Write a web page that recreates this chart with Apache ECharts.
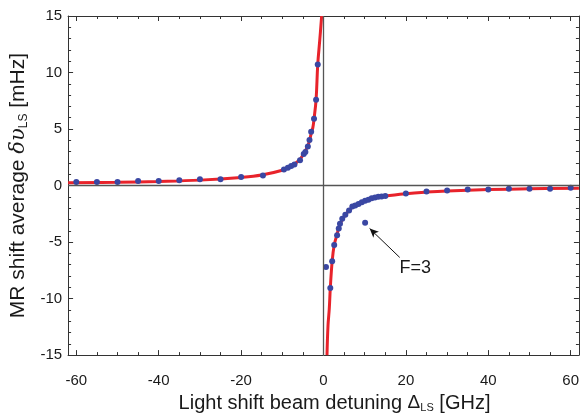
<!DOCTYPE html>
<html><head><meta charset="utf-8">
<script src="https://cdn.jsdelivr.net/npm/echarts@6/dist/echarts.min.js"></script>
<style>html,body{margin:0;padding:0;background:#fff}#c{width:582px;height:418px}</style>
</head><body><div id="c"></div>
<script>
// ---- data ----
const xMajorTicks = [-60, -40, -20, 0, 20, 40, 60];
const xMinorTicks = [-60,-55,-50,-45,-40,-35,-30,-25,-20,-15,-10,-5,0,5,10,15,20,25,30,35,40,45,50,55,60];
const yTickValues = [-15, -10, -5, 0, 5, 10, 15];

// measured points, negative detuning
const leftX = [-60, -55, -50, -45, -40, -35, -30, -25, -20, -14.7, -9.6, -8.65, -7.85, -7.05, -5.7, -4.8, -4.4, -3.8, -3.4, -3.0, -2.3, -1.8, -1.4];
const leftY = [0.32, 0.32, 0.32, 0.41, 0.41, 0.46, 0.55, 0.55, 0.76, 0.9, 1.42, 1.57, 1.72, 1.86, 2.24, 2.79, 2.96, 3.46, 4.04, 4.77, 5.9, 7.6, 10.7];
// measured points, positive detuning
const rightX = [0.6, 1.65, 2.1, 2.6, 3.3, 3.7, 4.0, 4.55, 5.3, 6.2, 7.0, 7.7, 8.5, 9.3, 10.1, 10.9, 11.7, 12.5, 13.3, 14.1, 15.0, 20, 25, 30, 35, 40, 45, 50, 55, 60];
const rightY = [-7.2, -9.07, -6.7, -5.26, -4.39, -3.8, -3.37, -2.94, -2.59, -2.21, -1.86, -1.77, -1.63, -1.48, -1.34, -1.25, -1.13, -1.05, -0.99, -0.96, -0.93, -0.70, -0.52, -0.44, -0.35, -0.35, -0.29, -0.29, -0.29, -0.2];
// F=3 point
const f3X = [10.1];
const f3Y = [-3.29];

// fitted curve
const fitLeftX = [-62, -50, -40, -30, -20, -15, -10, -8, -6, -5, -4, -3.4, -3.0, -2.6, -2.3, -1.8, -1.4, -0.9, -0.45];
const fitLeftY = [0.24, 0.29, 0.36, 0.48, 0.72, 0.93, 1.35, 1.68, 2.2, 2.7, 3.35, 3.95, 4.6, 5.1, 5.9, 7.6, 10.7, 12.9, 15];
const fitRightX = [0.85, 1.09, 1.4, 1.65, 2.1, 2.6, 3.3, 4.0, 5.0, 6.2, 7.0, 8.5, 10, 12, 15, 20, 25, 30, 40, 50, 62];
const fitRightY = [-15, -12.4, -10.9, -9.07, -6.7, -5.26, -4.3, -3.4, -2.75, -2.21, -1.92, -1.6, -1.36, -1.14, -0.93, -0.72, -0.58, -0.48, -0.36, -0.29, -0.23];

// annotation
const annText = 'F=3';
const annTextPos = [22.3, -7.3];
const annArrowFrom = [18.5, -6.36];
const annArrowTo = [11.2, -3.8];

const zip = (a, b) => a.map((v, i) => [v, b[i]]);

const FONT = 'Liberation Sans, Arial, sans-serif';
const frameColor = '#333';
const txt = '#1a1a1a';
const tickLabel = { fontFamily: FONT, fontSize: 15, color: txt };

function xAxisDef(pos, showLabel, ticks, len, showLine) {
  return {
    type: 'value', position: pos, min: -62, max: 62,
    axisLine: { show: showLine, onZero: false, lineStyle: { color: frameColor, width: 1 } },
    axisTick: { show: true, inside: true, length: len, customValues: ticks, lineStyle: { color: frameColor, width: 1 } },
    axisLabel: showLabel ? Object.assign({ show: true, margin: 18, customValues: xMajorTicks }, tickLabel) : { show: false },
    splitLine: { show: false }
  };
}
function yAxisDef(pos, showLabel) {
  return {
    type: 'value', position: pos, min: -15, max: 15, interval: 5,
    axisLine: { show: true, onZero: false, lineStyle: { color: frameColor, width: 1 } },
    axisTick: { show: true, inside: true, length: 5, lineStyle: { color: frameColor } },
    minorTick: { show: true, splitNumber: 5, length: 3, lineStyle: { color: frameColor } },
    axisLabel: showLabel ? Object.assign({ show: true, margin: 6 }, tickLabel) : { show: false },
    splitLine: { show: false }, minorSplitLine: { show: false }
  };
}

const xAxes = [
  xAxisDef('bottom', true, xMinorTicks, 3, true),
  xAxisDef('bottom', false, xMajorTicks, 5, false),
  xAxisDef('top', false, xMinorTicks, 3, true),
  xAxisDef('top', false, xMajorTicks, 5, false)
];
Object.assign(xAxes[0], {
  name: '{t|Light shift beam detuning }{g|Δ}{s|LS}{t| [GHz]}',
  nameLocation: 'middle', nameGap: 36,
  nameTextStyle: { padding: [0, 0, 0, 22], rich: {
    t: { fontFamily: FONT, fontSize: 20, color: txt },
    g: { fontFamily: FONT, fontSize: 19, color: txt },
    s: { fontFamily: FONT, fontSize: 11, color: txt, verticalAlign: 'bottom', padding: [9, 0, 0, 0] }
  } }
});
const yAxes = [yAxisDef('left', true), yAxisDef('right', false)];
Object.assign(yAxes[0], {
  name: '{t|MR shift average }{g|δυ}{s|LS}{t| [mHz]}',
  nameLocation: 'middle', nameGap: 30, nameRotate: 90,
  nameTextStyle: { rich: {
    t: { fontFamily: FONT, fontSize: 21, color: txt },
    g: { fontFamily: 'DejaVu Serif, serif', fontSize: 21, fontStyle: 'italic', color: txt },
    s: { fontFamily: FONT, fontSize: 12, color: txt, verticalAlign: 'bottom', padding: [10, 0, 0, 0] }
  } }
});

const dotColor = '#3a47a3';
const lineColor = '#e8232b';

const chart = echarts.init(document.getElementById('c'), null, { renderer: 'canvas' });
chart.setOption({
  animation: false,
  backgroundColor: '#fff',
  grid: { left: 66, right: 3, top: 16, bottom: 58, containLabel: false },
  xAxis: xAxes,
  yAxis: yAxes,
  series: [
    { type: 'line', xAxisIndex: 0, yAxisIndex: 0, data: zip(fitLeftX, fitLeftY), smooth: 0.4, showSymbol: false, clip: true,
      lineStyle: { color: lineColor, width: 3 }, z: 3,
      markLine: { silent: true, symbol: 'none', label: { show: false },
        lineStyle: { color: '#555', width: 1.3, type: 'solid' },
        data: [{ xAxis: 0 }, { yAxis: 0 }] } },
    { type: 'line', xAxisIndex: 0, yAxisIndex: 0, data: zip(fitRightX, fitRightY), smooth: 0.4, showSymbol: false, clip: true,
      lineStyle: { color: lineColor, width: 3 }, z: 3 },
    { type: 'scatter', xAxisIndex: 0, yAxisIndex: 0, data: zip(leftX, leftY).concat(zip(rightX, rightY)),
      symbolSize: 6, itemStyle: { color: dotColor, opacity: 1 }, z: 4 },
    { type: 'scatter', xAxisIndex: 0, yAxisIndex: 0, data: zip(f3X, f3Y),
      symbolSize: 6, itemStyle: { color: dotColor, opacity: 1 }, z: 4,
      markLine: { silent: true, symbol: ['none', 'arrow'], symbolSize: [6, 9], label: { show: false },
        lineStyle: { color: '#111', width: 1, type: 'solid' },
        data: [[{ coord: annArrowFrom }, { coord: annArrowTo }]] } }
  ]
});
const p = chart.convertToPixel({ xAxisIndex: 0, yAxisIndex: 0 }, annTextPos);
chart.setOption({
  graphic: [{ type: 'text', x: p[0], y: p[1], z: 10,
    style: { text: annText, fill: txt, font: '18px ' + FONT, align: 'center', verticalAlign: 'middle' } }]
});
</script>
</body></html>
